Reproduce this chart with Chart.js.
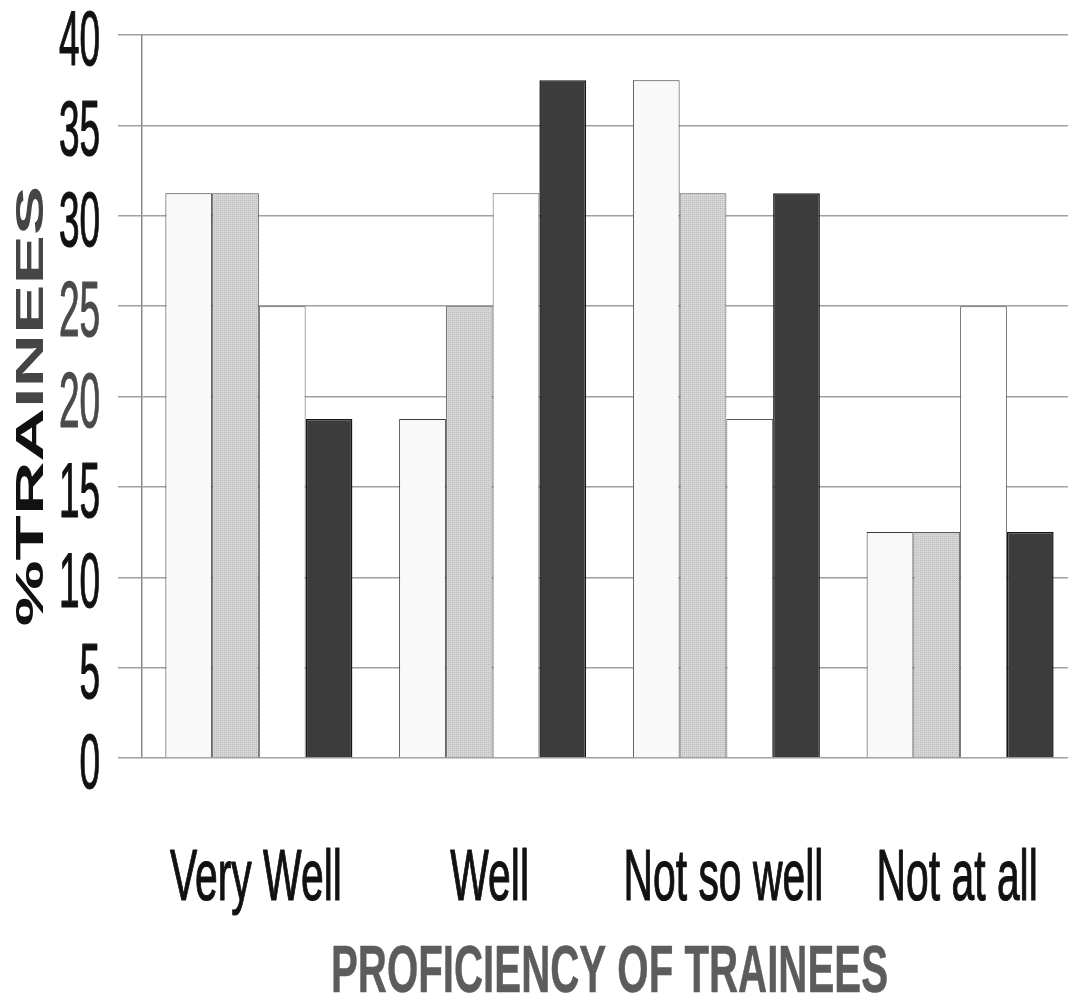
<!DOCTYPE html>
<html>
<head>
<meta charset="utf-8">
<script src="https://cdn.jsdelivr.net/npm/chart.js@4.4.1/dist/chart.umd.min.js"></script>
<style>
  html, body { margin: 0; padding: 0; background: #ffffff; overflow: hidden; }
  #wrap { width: 1090px; height: 1002px; }
</style>
</head>
<body>
<div id="wrap"><canvas id="c" width="1090" height="1002"></canvas></div>
<script>
// ---- data ----
const categories = ['Very Well', 'Well', 'Not so well', 'Not at all'];
const seriesA = [31.25, 18.75, 37.5, 12.5];   // white / light bars
const seriesB = [31.25, 25, 31.25, 12.5];     // stippled grey bars
const seriesC = [25, 31.25, 18.75, 25];       // plain white bars
const seriesD = [18.75, 37.5, 31.25, 12.5];   // dark bars
const yTickValues = [0, 5, 10, 15, 20, 25, 30, 35, 40];
const xTitle = 'PROFICIENCY OF TRAINEES';
const yTitleParts = ['%TRA', 'INEES'];

// stipple pattern for grey series
function stipple() {
  const c = document.createElement('canvas');
  c.width = 4; c.height = 4;
  const g = c.getContext('2d');
  g.fillStyle = '#d6d6d6'; g.fillRect(0, 0, 4, 4);
  g.fillStyle = '#b4b4b4';
  g.fillRect(0, 0, 1, 1); g.fillRect(2, 2, 1, 1);
  g.fillStyle = '#c2c2c2';
  g.fillRect(2, 0, 1, 1); g.fillRect(0, 2, 1, 1);
  return g.createPattern(c, 'repeat');
}

function boldText(ctx, txt, x, y, color, stroke) {
  ctx.fillStyle = color;
  ctx.strokeStyle = color;
  ctx.lineWidth = stroke;
  ctx.lineJoin = 'round';
  ctx.strokeText(txt, x, y);
  ctx.fillText(txt, x, y);
}

const textPlugin = {
  id: 'condensedText',
  afterDraw(chart) {
    const ctx = chart.ctx;
    const ys = chart.scales.y, xs = chart.scales.x;
    ctx.save();
    // y tick labels (condensed)
    ctx.font = '77px "Liberation Sans", Arial, sans-serif';
    ctx.textAlign = 'right';
    ctx.textBaseline = 'alphabetic';
    yTickValues.forEach(v => {
      const py = ys.getPixelForValue(v);
      ctx.save();
      ctx.translate(100, py + 30);
      ctx.scale(0.48, 1);
      boldText(ctx, String(v), 0, 0, (v === 20 || v === 25) ? '#4a4a4a' : '#111111', 1.2);
      ctx.restore();
    });
    // x category labels
    ctx.font = '73px "Liberation Sans", Arial, sans-serif';
    ctx.textAlign = 'center';
    categories.forEach((lab, i) => {
      const px = xs.getPixelForValue(i);
      ctx.save();
      ctx.translate(px - 3, 900);
      ctx.scale(0.56, 1);
      boldText(ctx, lab, 0, 0, '#111111', 1.2);
      ctx.restore();
    });
    // x title
    ctx.font = 'bold 66px "Liberation Sans", Arial, sans-serif';
    ctx.save();
    ctx.translate((chart.chartArea.left + chart.chartArea.right) / 2, 992);
    ctx.scale(0.61, 1);
    ctx.textAlign = 'center';
    boldText(ctx, xTitle, 0, 0, '#5c5c5c', 0.5);
    ctx.restore();
    // y title, rotated and stretched along its length
    ctx.font = 'bold 39px "Liberation Sans", Arial, sans-serif';
    const full = yTitleParts.join('');
    const w = ctx.measureText(full).width;
    const w0 = ctx.measureText(yTitleParts[0]).width;
    ctx.save();
    ctx.translate(43, 406);
    ctx.rotate(-Math.PI / 2);
    ctx.scale(1.9, 1);
    ctx.textAlign = 'left';
    ctx.fillStyle = '#111111';
    ctx.fillText(yTitleParts[0], -w / 2, 0);
    ctx.fillStyle = '#454545';
    ctx.fillText(yTitleParts[1], -w / 2 + w0, 0);
    ctx.restore();
    ctx.restore();
  }
};

const bgPlugin = {
  id: 'bg',
  beforeDraw(chart) {
    const ctx = chart.ctx;
    ctx.save();
    ctx.fillStyle = '#ffffff';
    ctx.fillRect(0, 0, chart.width, chart.height);
    ctx.restore();
  }
};

new Chart(document.getElementById('c'), {
  type: 'bar',
  data: {
    labels: categories,
    datasets: [
      { label: 'Series 1', data: seriesA, backgroundColor: '#f9f9f9', borderColor: '#3a3a3a', borderWidth: 1 },
      { label: 'Series 2', data: seriesB, backgroundColor: stipple(), borderColor: '#555555', borderWidth: 1 },
      { label: 'Series 3', data: seriesC, backgroundColor: '#ffffff', borderColor: '#5a5a5a', borderWidth: 1 },
      { label: 'Series 4', data: seriesD, backgroundColor: '#3c3c3c', borderColor: '#161616', borderWidth: 1.5 }
    ]
  },
  options: {
    responsive: false,
    animation: false,
    layout: { padding: { top: 35, right: 13, left: 0, bottom: 0 } },
    datasets: { bar: { categoryPercentage: 0.8, barPercentage: 1.0 } },
    plugins: { legend: { display: false }, tooltip: { enabled: false }, title: { display: false } },
    scales: {
      x: {
        grid: { display: false },
        border: { display: false },
        ticks: { display: false },
        afterFit(scale) { scale.height = 244; }
      },
      y: {
        min: 0, max: 40,
        ticks: { display: false, stepSize: 5 },
        grid: { color: '#a0a0a0', lineWidth: 1.5, drawTicks: true, tickLength: 24, tickColor: '#a0a0a0' },
        border: { display: true, color: '#8a8a8a', width: 1.5 },
        afterFit(scale) { scale.width = 142; }
      }
    }
  },
  plugins: [bgPlugin, textPlugin]
});
</script>
</body>
</html>
